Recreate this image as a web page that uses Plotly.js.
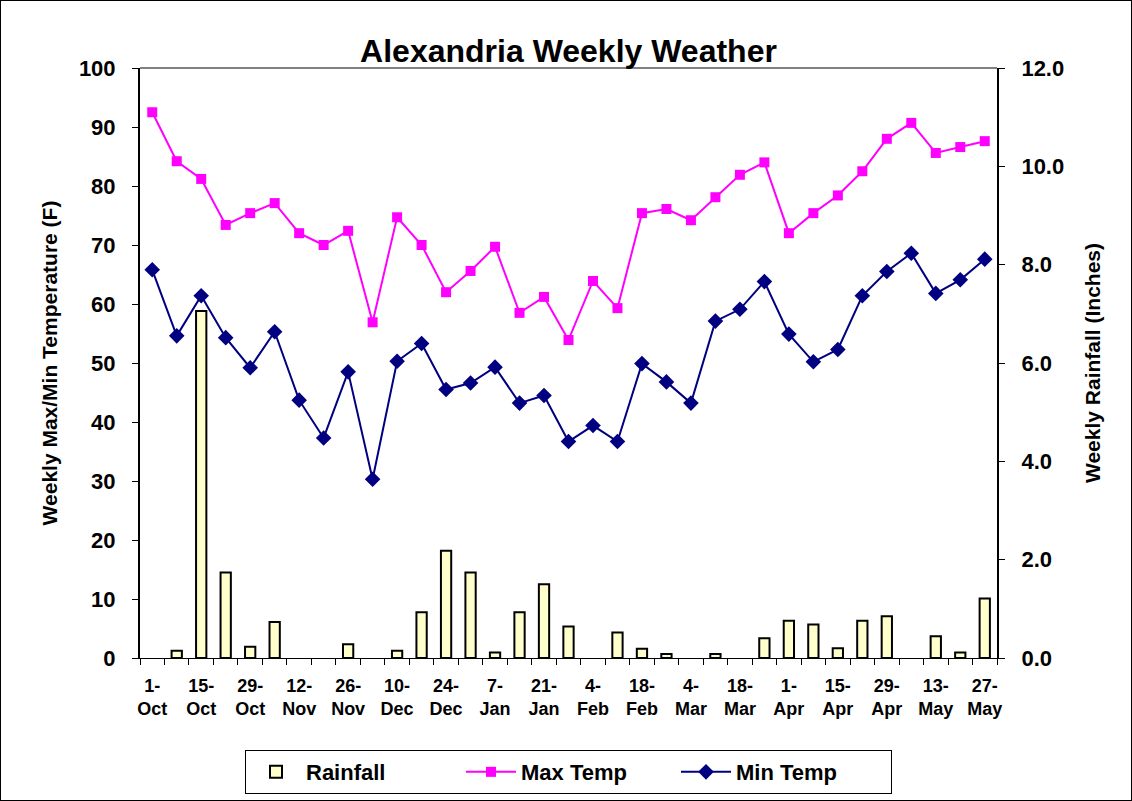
<!DOCTYPE html>
<html>
<head>
<meta charset="utf-8">
<script src="https://cdn.plot.ly/plotly-3.0.1.min.js"></script>
<style>
html,body{margin:0;padding:0;background:#fff;}
#chart{width:1130px;height:799px;border:1px solid #000;}
</style>
</head>
<body>
<div id="chart"></div>
<script>
// Weekly data, 1-Oct .. 27-May
const weeks = ["1-Oct","8-Oct","15-Oct","22-Oct","29-Oct","5-Nov","12-Nov","19-Nov","26-Nov","3-Dec",
  "10-Dec","17-Dec","24-Dec","31-Dec","7-Jan","14-Jan","21-Jan","28-Jan","4-Feb","11-Feb",
  "18-Feb","25-Feb","4-Mar","11-Mar","18-Mar","25-Mar","1-Apr","8-Apr","15-Apr","22-Apr",
  "29-Apr","6-May","13-May","20-May","27-May"];
const rainfall = [0, 0.15, 7.06, 1.74, 0.23, 0.73, 0, 0, 0.28, 0, 0.15, 0.93, 2.18, 1.74, 0.11, 0.93, 1.50, 0.64, 0, 0.52,
  0.19, 0.08, 0, 0.08, 0, 0.40, 0.76, 0.68, 0.20, 0.76, 0.85, 0, 0.44, 0.11, 1.21];
const maxTemp = [92.5, 84.2, 81.2, 73.4, 75.4, 77.1, 72.0, 70.0, 72.4, 56.9, 74.7, 70.0, 62.0, 65.6, 69.7, 58.5, 61.2, 53.9, 63.9, 59.3,
  75.4, 76.1, 74.2, 78.1, 81.9, 84.0, 72.0, 75.4, 78.4, 82.5, 88.0, 90.7, 85.6, 86.6, 87.6];
const minTemp = [65.8, 54.6, 61.4, 54.3, 49.2, 55.3, 43.7, 37.3, 48.5, 30.3, 50.3, 53.3, 45.5, 46.6, 49.3, 43.2, 44.5, 36.7, 39.4, 36.7,
  49.9, 46.8, 43.2, 57.1, 59.1, 63.8, 54.9, 50.2, 52.3, 61.4, 65.5, 68.6, 61.8, 64.1, 67.6];
const tickLabels = ["1-<br>Oct","15-<br>Oct","29-<br>Oct","12-<br>Nov","26-<br>Nov","10-<br>Dec","24-<br>Dec","7-<br>Jan","21-<br>Jan",
  "4-<br>Feb","18-<br>Feb","4-<br>Mar","18-<br>Mar","1-<br>Apr","15-<br>Apr","29-<br>Apr","13-<br>May","27-<br>May"];

const idx = weeks.map((w, i) => i);
const tickVals = tickLabels.map((t, i) => i * 2);
const font = "Liberation Sans, Arial, sans-serif";
// weeks without rain: nothing drawn (as in Excel), value kept as 0 in the data
const rainDrawn = rainfall.map(v => (v > 0 ? v : null));

const traces = [
  {type: "bar", name: "Rainfall", x: idx, y: rainDrawn, yaxis: "y", width: 0.42,
   marker: {color: "#FFFFCC", line: {color: "#000", width: 2}}, hovertext: weeks, textposition: "none"},
  {type: "scatter", mode: "lines+markers", name: "Max Temp", x: idx, y: maxTemp, yaxis: "y2",
   line: {color: "#FF00FF", width: 2}, marker: {symbol: "square", size: 10, color: "#FF00FF"}},
  {type: "scatter", mode: "lines+markers", name: "Min Temp", x: idx, y: minTemp, yaxis: "y2",
   line: {color: "#000080", width: 2}, marker: {symbol: "diamond", size: 12, color: "#000080"}}
];

const layout = {
  width: 1130, height: 799,
  margin: {l: 139, r: 134, t: 67, b: 142, autoexpand: false},
  paper_bgcolor: "#fff", plot_bgcolor: "#fff",
  font: {family: font, color: "#000"},
  showlegend: true,
  title: {text: "Alexandria Weekly Weather", x: 0.5, xref: "paper", y: 1 - 50/799, yref: "container", yanchor: "middle",
          font: {family: font, size: 32, weight: "bold", color: "#000"}},
  xaxis: {
    range: [-0.5, 34.5], tickmode: "array", tickvals: tickVals, ticktext: tickLabels,
    ticks: "", showgrid: false, zeroline: false, showline: true, linecolor: "#000", linewidth: 1,
    tickfont: {family: font, size: 18, weight: "bold"}, ticklabelstandoff: 11,
    minor: {tickmode: "linear", tick0: -0.5, dtick: 1, ticks: "outside", ticklen: 6, tickcolor: "#000", tickwidth: 1, showgrid: false}
  },
  yaxis: {
    side: "right", range: [0, 12], tickvals: [0,2,4,6,8,10,12], tickformat: ".1f",
    ticks: "outside", ticklen: 6, tickcolor: "#000", showgrid: false, zeroline: false,
    showline: true, linecolor: "#000", linewidth: 2,
    tickfont: {family: font, size: 22, weight: "bold"}, ticklabelstandoff: 12,
    title: {text: "Weekly Rainfall (Inches)", standoff: 22, font: {family: font, size: 21, weight: "bold"}}
  },
  yaxis2: {
    side: "left", overlaying: "y", range: [0, 100], tickvals: [0,10,20,30,40,50,60,70,80,90,100],
    ticks: "outside", ticklen: 6, tickcolor: "#000", showgrid: false, zeroline: false,
    showline: true, linecolor: "#000", linewidth: 2,
    tickfont: {family: font, size: 22, weight: "bold"}, ticklabelstandoff: 12,
    title: {text: "Weekly Max/Min Temperature (F)", standoff: 16, font: {family: font, size: 21, weight: "bold"}}
  },
  legend: {orientation: "h", x: 0.5, xanchor: "center", y: -0.156, yanchor: "top",
           bordercolor: "#000", borderwidth: 1, bgcolor: "#fff",
           font: {family: font, size: 22, weight: "bold"}, traceorder: "normal", itemwidth: 50,
           entrywidth: 150, entrywidthmode: "pixels"},
  shapes: [
    {type: "line", xref: "paper", yref: "paper", x0: 0, x1: 1, y0: 1, y1: 1, line: {color: "#808080", width: 2}}
  ],
  bargap: 0
};

Plotly.newPlot("chart", traces, layout, {displayModeBar: false, staticPlot: true});
</script>
</body>
</html>
